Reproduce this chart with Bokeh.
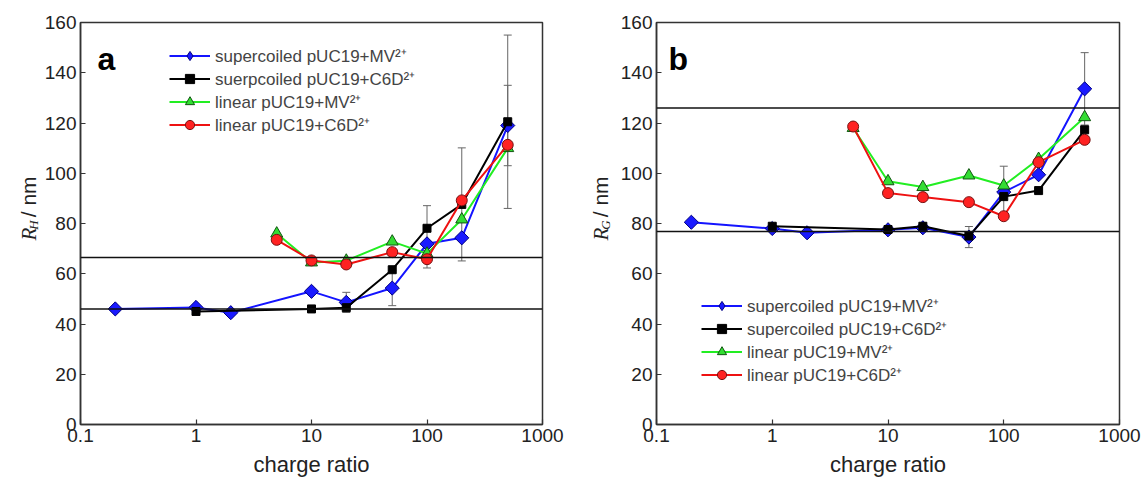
import math
from bokeh.plotting import figure
from bokeh.models import (Range1d, FixedTicker, Span, Whisker, ColumnDataSource,
                          Legend, LegendItem, Label, TeeHead, CustomJSTickFormatter)
from bokeh.layouts import row
from bokeh.embed import file_html
from bokeh.resources import INLINE
from bokeh.core.properties import value

# ---------------- data ----------------
x_ticks = [0.1, 1, 10, 100, 1000]
x_tick_labels = ["0.1", "1", "10", "100", "1000"]
y_ticks = [0, 20, 40, 60, 80, 100, 120, 140, 160]

names_a = ["supercoiled pUC19+MV²⁺", "suerpcoiled pUC19+C6D²⁺",
           "linear pUC19+MV²⁺", "linear pUC19+C6D²⁺"]
names_b = ["supercoiled pUC19+MV²⁺", "supercoiled pUC19+C6D²⁺",
           "linear pUC19+MV²⁺", "linear pUC19+C6D²⁺"]

# panel a : R_H
a_sc_mv_x = [0.2, 1, 2, 10, 20, 50, 100, 200, 500]
a_sc_mv_y = [46.0, 46.6, 44.5, 53.0, 48.6, 54.3, 71.9, 74.3, 119.0]
a_sc_c6d_x = [1, 10, 20, 50, 100, 200, 500]
a_sc_c6d_y = [45.0, 46.0, 46.5, 61.6, 78.1, 87.6, 120.5]
a_lin_mv_x = [5, 10, 20, 50, 100, 200, 500]
a_lin_mv_y = [76.0, 64.5, 65.2, 72.8, 68.0, 81.6, 110.0]
a_lin_c6d_x = [5, 10, 20, 50, 100, 200, 500]
a_lin_c6d_y = [73.5, 65.3, 63.7, 68.6, 65.8, 89.2, 111.3]
a_ref_lines = [66.5, 46.0]
a_err_x = [20, 50, 100, 100, 200, 500, 500]
a_err_y = [48.6, 54.3, 78.1, 65.8, 87.6, 120.5, 119.0]
a_err_e = [4.0, 7.0, 9.0, 3.5, 22.5, 34.5, 16.0]

# panel b : R_G
b_sc_mv_x = [0.2, 1, 2, 10, 20, 50, 100, 200, 500]
b_sc_mv_y = [80.5, 78.0, 76.3, 77.5, 78.3, 74.6, 92.5, 99.4, 133.6]
b_sc_c6d_x = [1, 10, 20, 50, 100, 200, 500]
b_sc_c6d_y = [78.9, 77.6, 78.9, 75.0, 90.7, 93.1, 117.3]
b_lin_mv_x = [5, 10, 20, 50, 100, 200, 500]
b_lin_mv_y = [118.0, 96.8, 94.5, 99.1, 95.1, 105.7, 122.3]
b_lin_c6d_x = [5, 10, 20, 50, 100, 200, 500]
b_lin_c6d_y = [118.6, 92.1, 90.5, 88.5, 82.9, 104.4, 113.3]
b_ref_lines = [126.0, 76.8]
b_err_x = [50, 100, 500]
b_err_y = [74.6, 92.5, 133.6]
b_err_e = [4.2, 10.3, 14.4]

# ---------------- styles ----------------
FONT = "Liberation Sans"
SERIF = "Liberation Serif"
H = 483
styles = [
    dict(line="#1414ff", marker="square", angle=math.pi / 4, size=10,
         fill="#1a1aff", edge="#000080", leg_marker="diamond", leg_size=12),
    dict(line="#000000", marker="square", angle=0, size=8, fill="#000000",
         edge="#000000", leg_marker=None, leg_size=None),
    dict(line="#22ee22", marker="triangle", angle=0, size=12, fill="#33dd33",
         edge="#115511", leg_marker=None, leg_size=None),
    dict(line="#ee1111", marker="circle", angle=0, size=11, fill="#ff2222",
         edge="#771111", leg_marker=None, leg_size=None),
]


def ylabel_fig(width, cx, sub):
    """Narrow figure holding the rotated y-axis title (italic R, subscript, '/ nm')."""
    f = figure(width=width, height=H, x_range=Range1d(0, width), y_range=Range1d(0, H),
               output_backend="svg", toolbar_location=None, min_border=0)
    f.axis.visible = False
    f.grid.visible = False
    f.outline_line_color = None
    half = math.pi / 2
    base = H - 262  # bottom of the title in canvas units
    f.text(x=[cx], y=[base], text=["R"], angle=half, text_font=value(SERIF),
           text_font_style="italic", text_font_size="21px", text_align="left",
           text_baseline="middle", text_color="#222222")
    f.text(x=[cx + 5], y=[base + 13], text=[sub], angle=half, text_font=value(SERIF),
           text_font_style="italic", text_font_size="13px", text_align="left",
           text_baseline="middle", text_color="#222222")
    f.text(x=[cx], y=[base + 28], text=["/ nm"], angle=half, text_font=value(FONT),
           text_font_size="21px", text_align="left", text_baseline="middle",
           text_color="#222222")
    return f


def make_panel(width, bl, br, series, names, ref_lines, err, letter, letter_dx,
               legend_loc):
    p = figure(width=width, height=H, x_axis_type="log",
               x_range=Range1d(0.1, 1000), y_range=Range1d(0, 160),
               output_backend="svg", toolbar_location=None,
               min_border_left=bl, min_border_right=br,
               min_border_top=22, min_border_bottom=59)
    p.xgrid.visible = False
    p.ygrid.visible = False
    p.background_fill_color = "white"
    p.border_fill_color = "white"
    p.outline_line_color = "#333333"
    p.outline_line_width = 1.5

    p.xaxis.ticker = FixedTicker(ticks=x_ticks, minor_ticks=[])
    p.xaxis.formatter = CustomJSTickFormatter(
        args=dict(tv=x_ticks, tl=x_tick_labels),
        code="""
        for (let i = 0; i < tv.length; i++) {
            if (Math.abs(tv[i] - tick) < 1e-9 * Math.max(1, Math.abs(tick))) return tl[i];
        }
        return '';
        """)
    p.yaxis.ticker = FixedTicker(ticks=y_ticks, minor_ticks=[])
    for ax in (p.xaxis, p.yaxis):
        ax.major_tick_in = 5
        ax.major_tick_out = 0
        ax.minor_tick_line_color = None
        ax.axis_line_color = "#333333"
        ax.axis_line_width = 1.5
        ax.major_tick_line_color = "#333333"
        ax.major_tick_line_width = 1.2
        ax.major_label_text_font = FONT
        ax.major_label_text_font_size = "19px"
        ax.major_label_text_color = "#222222"
        ax.major_label_standoff = 4
    p.xaxis.axis_label = "charge ratio"
    p.xaxis.axis_label_text_font = FONT
    p.xaxis.axis_label_text_font_size = "22px"
    p.xaxis.axis_label_text_font_style = "normal"
    p.xaxis.axis_label_text_color = "#222222"
    p.xaxis.axis_label_standoff = 7

    for v in ref_lines:
        p.add_layout(Span(location=v, dimension="width", line_color="#111111",
                          line_width=1.5))

    ex, ey, ee = err
    src = ColumnDataSource(dict(x=ex, upper=[y + e for y, e in zip(ey, ee)],
                                lower=[y - e for y, e in zip(ey, ee)]))
    wh = Whisker(source=src, base="x", upper="upper", lower="lower",
                 dimension="height", line_color="#666666", line_width=1,
                 upper_head=TeeHead(size=8, line_color="#666666", line_width=1),
                 lower_head=TeeHead(size=8, line_color="#666666", line_width=1),
                 level="underlay")
    p.add_layout(wh)

    items = []
    for (xs, ys), st, nm in zip(series, styles, names):
        lr = p.line(xs, ys, line_color=st["line"], line_width=2)
        lm = None
        if st["leg_marker"]:
            # smaller diamond used by the legend, hidden under the plotted markers
            lm = p.scatter(xs, ys, marker=st["leg_marker"], size=st["leg_size"],
                           fill_color=st["fill"], line_color=st["edge"], line_width=1)
        sr = p.scatter(xs, ys, marker=st["marker"], size=st["size"], angle=st["angle"],
                       fill_color=st["fill"], line_color=st["edge"], line_width=1)
        items.append(LegendItem(label=nm, renderers=[lr, lm if lm is not None else sr]))

    leg = Legend(items=items, location=legend_loc, glyph_width=41, glyph_height=23,
                 label_height=23, spacing=0, padding=0, margin=0,
                 border_line_color=None, background_fill_alpha=0,
                 label_text_font=FONT, label_text_font_size="17px",
                 label_standoff=5)
    p.add_layout(leg)

    # panel letter
    p.add_layout(Label(x=0.1, y=160, x_offset=letter_dx, y_offset=-36, text=letter,
                       text_font=FONT, text_font_style="bold", text_font_size="32px",
                       text_baseline="middle", text_align="left", text_color="#000000"))
    return p


la = ylabel_fig(41, 28, "H")
pa = make_panel(532, 36, 31,
                [(a_sc_mv_x, a_sc_mv_y), (a_sc_c6d_x, a_sc_c6d_y),
                 (a_lin_mv_x, a_lin_mv_y), (a_lin_c6d_x, a_lin_c6d_y)],
                names_a, a_ref_lines, (a_err_x, a_err_y, a_err_e),
                "a", 17, (89, 288))
lb = ylabel_fig(44, 27, "G")
pb = make_panel(526, 38, 24,
                [(b_sc_mv_x, b_sc_mv_y), (b_sc_c6d_x, b_sc_c6d_y),
                 (b_lin_mv_x, b_lin_mv_y), (b_lin_c6d_x, b_lin_c6d_y)],
                names_b, b_ref_lines, (b_err_x, b_err_y, b_err_e),
                "b", 12, (45, 38))

layout = row(la, pa, lb, pb)
open("out.html", "w").write(file_html(layout, INLINE))
